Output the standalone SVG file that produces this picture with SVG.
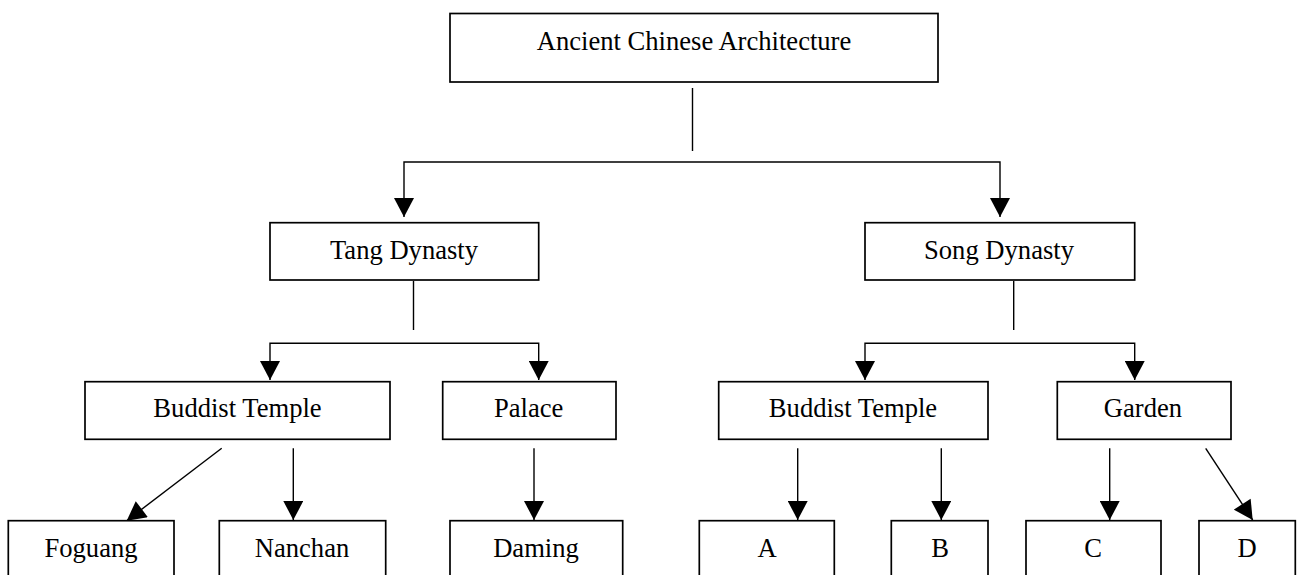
<svg xmlns="http://www.w3.org/2000/svg" width="1297" height="575" viewBox="0 0 1297 575">
<style>
.box{fill:#fff;stroke:#000;stroke-width:1.7}
.lbl{font-family:"Liberation Serif","Times New Roman",serif;font-size:26.6px;fill:#000;text-anchor:middle}
.c{fill:none;stroke:#000;stroke-width:1.4}
.a{marker-end:url(#ah)}
.aa{marker-start:url(#ah);marker-end:url(#ah)}
</style>
<defs>
<marker id="ah" markerUnits="userSpaceOnUse" markerWidth="20" markerHeight="20" viewBox="0 0 19 20" refX="19" refY="10" orient="auto-start-reverse">
<path d="M0,0 L19,10 L0,20 z" fill="#000"/>
</marker>
</defs>
<rect width="1297" height="575" fill="#fff"/>
<g id="connectors">
<line class="c" x1="692.5" y1="88" x2="692.5" y2="151"/>
<path class="c aa" d="M404,217 V162 H1000 V217"/>
<line class="c" x1="413.5" y1="281" x2="413.5" y2="330"/>
<path class="c aa" d="M270,380 V343.3 H538.7 V380"/>
<line class="c" x1="1013.7" y1="281" x2="1013.7" y2="330"/>
<path class="c aa" d="M865,380 V343.3 H1134.7 V380"/>
<line class="c a" x1="221.7" y1="448.3" x2="126.7" y2="520.7"/>
<line class="c a" x1="293.3" y1="448.3" x2="293.3" y2="520"/>
<line class="c a" x1="534" y1="448.3" x2="534" y2="520"/>
<line class="c a" x1="797.7" y1="448.3" x2="797.7" y2="520"/>
<line class="c a" x1="941.3" y1="448.3" x2="941.3" y2="520"/>
<line class="c a" x1="1109.7" y1="448.3" x2="1109.7" y2="520"/>
<line class="c a" x1="1205.7" y1="448.3" x2="1252.7" y2="520"/>
</g>
<g id="root"><rect class="box" x="450" y="13.5" width="488" height="68.5"/><text class="lbl" x="694" y="50">Ancient Chinese Architecture</text></g>
<g id="tang"><rect class="box" x="270" y="222.7" width="268.7" height="57.3"/><text class="lbl" x="404" y="259">Tang Dynasty</text></g>
<g id="song"><rect class="box" x="865" y="222.7" width="269.7" height="57.3"/><text class="lbl" x="999" y="259">Song Dynasty</text></g>
<g id="tang-temple"><rect class="box" x="85" y="381.7" width="305" height="57.6"/><text class="lbl" x="237.5" y="417">Buddist Temple</text></g>
<g id="palace"><rect class="box" x="442.7" y="381.7" width="173.3" height="57.6"/><text class="lbl" x="528.7" y="417">Palace</text></g>
<g id="song-temple"><rect class="box" x="718.7" y="381.7" width="269.3" height="57.6"/><text class="lbl" x="853" y="417">Buddist Temple</text></g>
<g id="garden"><rect class="box" x="1057.3" y="381.7" width="173.7" height="57.6"/><text class="lbl" x="1143" y="417">Garden</text></g>
<g id="foguang"><rect class="box" x="8.3" y="520.7" width="165.7" height="60"/><text class="lbl" x="91" y="556.7">Foguang</text></g>
<g id="nanchan"><rect class="box" x="219.3" y="520.7" width="166.4" height="60"/><text class="lbl" x="302" y="556.7">Nanchan</text></g>
<g id="daming"><rect class="box" x="450" y="520.7" width="172.7" height="60"/><text class="lbl" x="536" y="556.7">Daming</text></g>
<g id="a"><rect class="box" x="699.3" y="520.7" width="135" height="60"/><text class="lbl" x="767" y="556.7">A</text></g>
<g id="b"><rect class="box" x="891.3" y="520.7" width="96.7" height="60"/><text class="lbl" x="940" y="556.7">B</text></g>
<g id="c"><rect class="box" x="1026" y="520.7" width="135" height="60"/><text class="lbl" x="1093" y="556.7">C</text></g>
<g id="d"><rect class="box" x="1199" y="520.7" width="96.3" height="60"/><text class="lbl" x="1247" y="556.7">D</text></g>
</svg>
